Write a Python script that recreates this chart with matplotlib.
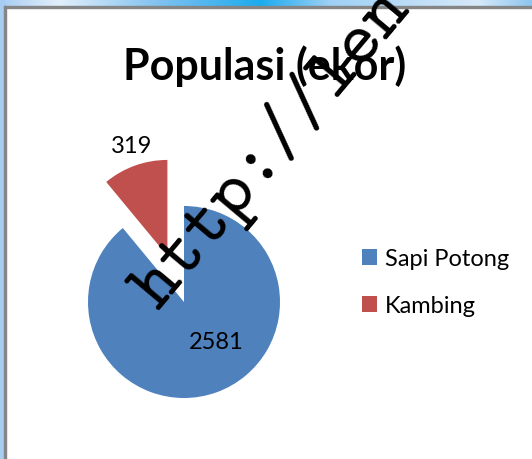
import matplotlib.pyplot as plt
import numpy as np
from matplotlib.colors import LinearSegmentedColormap

# data
categories = ["Sapi Potong", "Kambing"]
values = [2581, 319]
colors = ["#4F81BD", "#C0504D"]
title = "Populasi (ekor)"
watermark = "http://len"

W, H = 532, 460
fig = plt.figure(figsize=(W / 100, H / 100), dpi=100)
fig.patch.set_facecolor("white")

# window chrome: blue strip on the left/top and a gray frame line
bg = fig.add_axes([0, 0, 1, 1])
bg.set_xlim(0, W)
bg.set_ylim(H, 0)
bg.axis("off")
strip = LinearSegmentedColormap.from_list(
    "strip", [(0, "#A8CDF2"), (0.11, "#E2EFFB"), (0.3, "#7FC1F0"),
              (0.49, "#1AABEE"), (0.62, "#9ED0F5"), (0.9, "#D6E9F9"),
              (1, "#8EC6F0")])
bg.imshow(np.linspace(0, 1, 256)[None, :], cmap=strip, aspect="auto",
          extent=(0, W, 7, 0), zorder=1)
bg.add_patch(plt.Rectangle((0, 0), 4, H, color="#A8CDF2", zorder=1))
bg.add_patch(plt.Rectangle((4, 7), 2, H, color="#858585", zorder=2))
bg.add_patch(plt.Rectangle((4, 7), W, 2, color="#858585", zorder=2))

# pie axes: 1 data unit = 96 px, pie centre at (184, 303) px
r_px = 96
cx, cy = 184, H - 303
lim = 1.6
ax = fig.add_axes([(cx - lim * r_px) / W, (cy - lim * r_px) / H,
                   2 * lim * r_px / W, 2 * lim * r_px / H])
wedges, _ = ax.pie(values, colors=colors, startangle=90, counterclock=False,
                   explode=[0, 0.51], radius=1)
ax.set_xlim(-lim, lim)
ax.set_ylim(-lim, lim)
ax.set_aspect("equal")
ax.axis("off")

# data labels
label_pos = [(0.34, -0.41), (-0.55, 1.635)]
for v, (x, y) in zip(values, label_pos):
    ax.text(x, y, str(v), ha="center", va="center", fontsize=17,
            family="Lato", color="black")

fig.text(265 / W, 1 - 80 / H, title, ha="center", va="baseline",
         fontsize=31, fontweight="bold", family="Lato")

fig.legend(wedges, categories, loc="upper left",
           bbox_to_anchor=(353 / W, 1 - 240 / H), frameon=False,
           prop={"family": "Lato", "size": 17}, handlelength=0.62,
           handleheight=0.62, handletextpad=0.35, labelspacing=1.1,
           borderaxespad=0)

# watermark running diagonally across the chart
fig.text(285 / W, 1 - 160 / H, watermark, rotation=50, rotation_mode="anchor",
         ha="center", va="baseline", fontsize=54, family="cmtt10",
         color="black")

fig.savefig("out.png", dpi=100)
